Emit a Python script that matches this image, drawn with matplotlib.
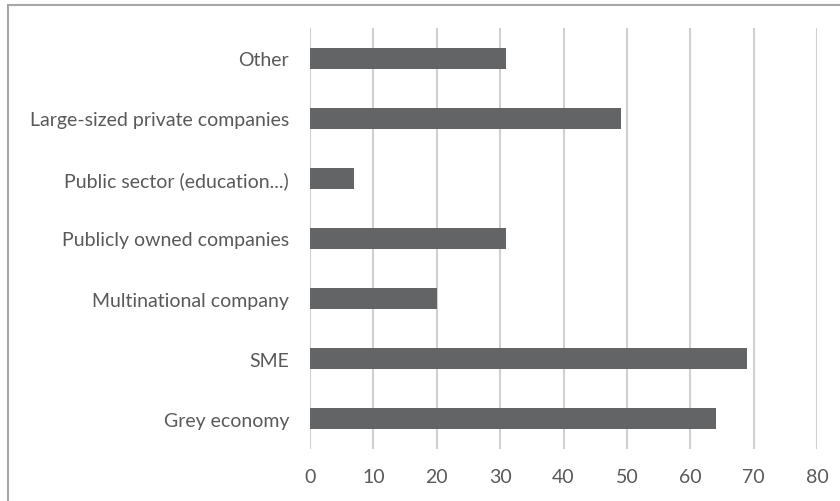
import matplotlib
matplotlib.use("Agg")
import matplotlib.pyplot as plt
from matplotlib.patches import Rectangle

categories = ["Grey economy", "SME", "Multinational company",
              "Publicly owned companies", "Public sector (education...)",
              "Large-sized private companies", "Other"]
values = [64, 69, 20, 31, 7, 49, 31]
x_ticks = [0, 10, 20, 30, 40, 50, 60, 70, 80]

bar_color = "#636466"
grid_color = "#d0d0d0"
text_color = "#595959"

plt.rcParams["font.family"] = ["Lato", "DejaVu Sans"]

fig = plt.figure(figsize=(8.4, 5.02), dpi=100)
ax = fig.add_axes([310 / 840, 52 / 502, 507 / 840, 421 / 502])

ax.barh(range(len(categories)), values, height=0.35, color=bar_color, zorder=3)

ax.set_xlim(0, 80)
ax.set_ylim(-0.5, len(categories) - 0.5)
ax.set_xticks(x_ticks)
ax.set_yticks(range(len(categories)))
ax.set_yticklabels(categories)

ax.grid(axis="x", color=grid_color, linewidth=1.5, zorder=0)
for s in ax.spines.values():
    s.set_visible(False)
ax.tick_params(axis="both", length=0, labelsize=14, colors=text_color)
ax.tick_params(axis="y", pad=15)
ax.tick_params(axis="x", pad=14)

# outer chart frame (right and bottom edges fall outside the image)
fig.patches.append(Rectangle((8 / 840, -0.05), 1.05, 1.05 - 6 / 502,
                             transform=fig.transFigure, fill=False,
                             edgecolor="#a6a6a6", linewidth=1.5))

fig.savefig("out.png", dpi=100)
plt.close(fig)
